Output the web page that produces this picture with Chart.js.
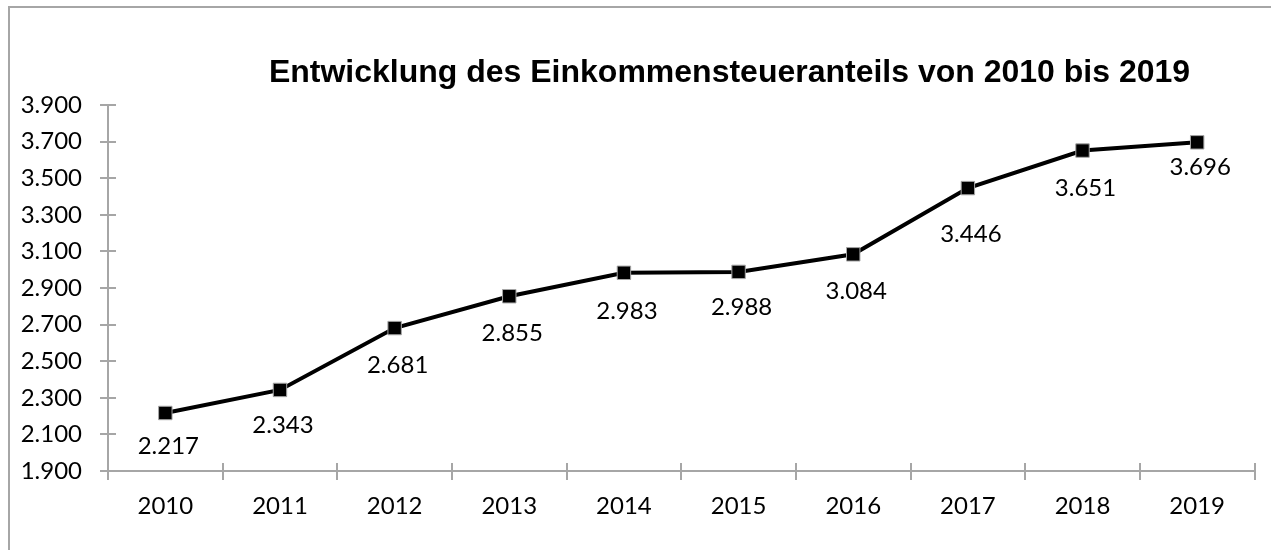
<!DOCTYPE html>
<html>
<head>
<meta charset="utf-8">
<script src="https://cdn.jsdelivr.net/npm/chart.js@4.4.1/dist/chart.umd.min.js"></script>
<style>
  html, body { margin: 0; padding: 0; background: #fff; overflow: hidden; }
  #frame { position: absolute; left: 8px; top: 6px; width: 2000px; height: 1000px;
           border-top: 2px solid #a6a6a6; border-left: 2px solid #a6a6a6; }
  #chart { position: absolute; left: 0; top: 0; }
</style>
</head>
<body>
<div id="frame"></div>
<canvas id="chart" width="1459" height="550"></canvas>
<script>
const years = ['2010', '2011', '2012', '2013', '2014', '2015', '2016', '2017', '2018', '2019'];
const einkommensteuer = [2217, 2343, 2681, 2855, 2983, 2988, 3084, 3446, 3651, 3696];
const yTicks = [1900, 2100, 2300, 2500, 2700, 2900, 3100, 3300, 3500, 3700, 3900];

const axisGray = '#a6a6a6';
const labelFont = { family: 'Lato', size: 24 };

// 3900 -> "3.900"
const fmt = v => String(v).replace(/\B(?=(\d{3})+(?!\d))/g, '.');

// tick marks crossing the axes, like Excel
const crossTicks = {
  id: 'crossTicks',
  afterDraw(chart) {
    const { ctx, chartArea, scales: { x, y } } = chart;
    ctx.save();
    ctx.strokeStyle = axisGray;
    ctx.lineWidth = 2;
    ctx.beginPath();
    y.ticks.forEach(t => {
      const py = Math.round(y.getPixelForValue(t.value));
      ctx.moveTo(chartArea.left - 8, py);
      ctx.lineTo(chartArea.left + 8, py);
    });
    const n = x.ticks.length;
    for (let i = 0; i <= n; i++) {
      let px;
      if (i === 0) px = chartArea.left;
      else if (i === n) px = chartArea.right;
      else px = (x.getPixelForValue(i - 1) + x.getPixelForValue(i)) / 2;
      px = Math.round(px);
      ctx.moveTo(px, chartArea.bottom - 8);
      ctx.lineTo(px, chartArea.bottom + 9);
    }
    ctx.stroke();
    ctx.restore();
  }
};

// value labels below the markers
const valueLabels = {
  id: 'valueLabels',
  afterDatasetsDraw(chart, args, opts) {
    const { ctx } = chart;
    const meta = chart.getDatasetMeta(0);
    const values = chart.data.datasets[0].data;
    ctx.save();
    ctx.font = `${labelFont.size}px ${labelFont.family}`;
    ctx.fillStyle = '#000';
    ctx.textAlign = 'center';
    ctx.textBaseline = 'middle';
    meta.data.forEach((pt, i) => {
      ctx.fillText(fmt(values[i]), pt.x + 3, pt.y + opts.drop[i]);
    });
    ctx.restore();
  }
};

new Chart(document.getElementById('chart').getContext('2d'), {
  type: 'line',
  data: {
    labels: years,
    datasets: [{
      data: einkommensteuer,
      borderColor: '#000',
      borderWidth: 4,
      tension: 0,
      pointStyle: 'rect',
      pointRadius: 9.5,
      pointBackgroundColor: '#000',
      pointBorderColor: axisGray,
      pointBorderWidth: 1
    }]
  },
  options: {
    responsive: false,
    animation: false,
    devicePixelRatio: 1,
    layout: { padding: 0 },
    plugins: {
      legend: { display: false },
      tooltip: { enabled: false },
      title: {
        display: true,
        text: 'Entwicklung des Einkommensteueranteils von 2010 bis 2019',
        color: '#000',
        font: { family: 'Liberation Sans', size: 32, weight: 'bold' },
        padding: { top: 54, bottom: 12.6 }
      },
      valueLabels: { drop: [33, 35, 37, 37, 38, 35, 37, 46, 38, 25] }
    },
    scales: {
      x: {
        type: 'category',
        offset: true,
        grid: { display: false, drawTicks: false },
        border: { display: true, color: axisGray, width: 2 },
        ticks: { color: '#000', font: labelFont, padding: 21, maxRotation: 0, autoSkip: false },
        afterFit: s => { s.height = 79; }
      },
      y: {
        min: 1900,
        max: 3900,
        afterBuildTicks: s => { s.ticks = yTicks.map(v => ({ value: v })); },
        grid: { display: false, drawTicks: false },
        border: { display: true, color: axisGray, width: 2 },
        ticks: { color: '#000', font: labelFont, padding: 26, callback: v => fmt(v) },
        afterFit: s => { s.width = 108; }
      },
      // empty right-hand strip so the title centres like the original
      spacer: {
        position: 'right',
        min: 0,
        max: 1,
        ticks: { display: false },
        grid: { display: false, drawTicks: false },
        border: { display: false },
        afterFit: s => { s.width = 204.5; }
      }
    }
  },
  plugins: [crossTicks, valueLabels]
});
</script>
</body>
</html>
